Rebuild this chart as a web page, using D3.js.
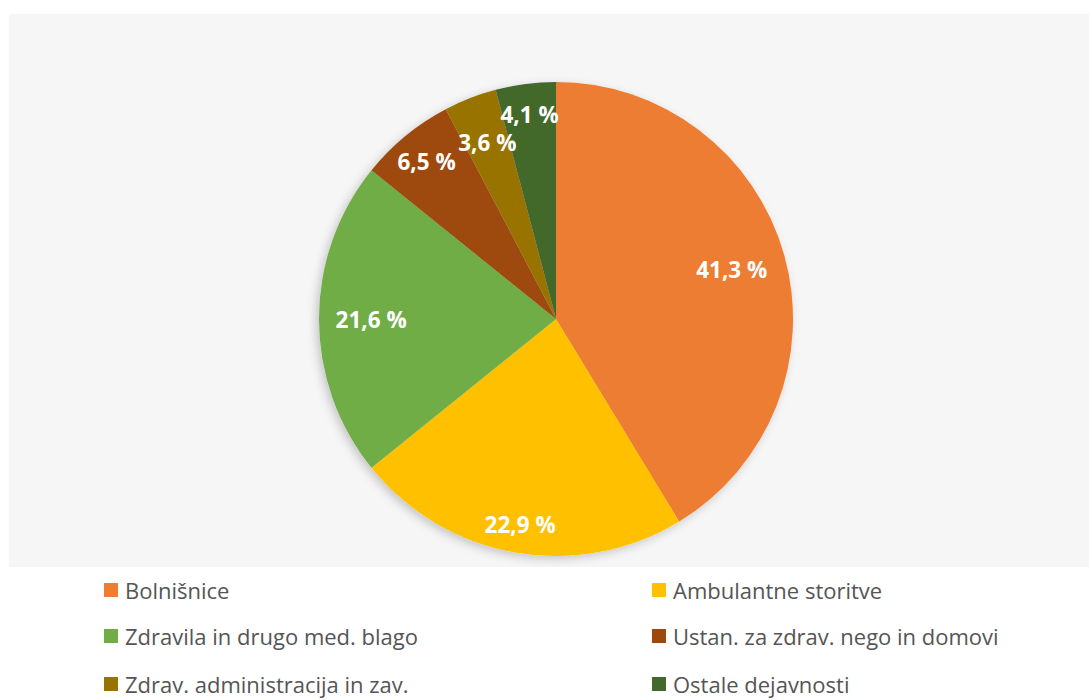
<!DOCTYPE html>
<html>
<head>
<meta charset="utf-8">
<script src="https://cdn.jsdelivr.net/npm/d3@7"></script>
<style>
  html, body { margin: 0; padding: 0; background: #ffffff; }
  svg { display: block; }
</style>
</head>
<body>
<svg id="chart" width="1089" height="700"></svg>
<script>
// Health expenditure by provider (share, %)
const categories = [
  "Bolnišnice",
  "Ambulantne storitve",
  "Zdravila in drugo med. blago",
  "Ustan. za zdrav. nego in domovi",
  "Zdrav. administracija in zav.",
  "Ostale dejavnosti"
];
const values = [41.3, 22.9, 21.6, 6.5, 3.6, 4.1];
const valueLabels = ["41,3 %", "22,9 %", "21,6 %", "6,5 %", "3,6 %", "4,1 %"];
const colors = ["#ED7D31", "#FFC000", "#70AD47", "#9E480E", "#997300", "#43682B"];

const svg = d3.select("#chart");
const W = 1089;
const FONT = "'Open Sans', Lato, sans-serif";

// plot area background
svg.append("rect")
  .attr("x", 9).attr("y", 14)
  .attr("width", W - 9).attr("height", 553)
  .attr("fill", "#f6f6f6");

const defs = svg.append("defs");
const shadow = defs.append("filter").attr("id", "pieShadow")
  .attr("x", "-20%").attr("y", "-20%").attr("width", "140%").attr("height", "140%");
shadow.append("feDropShadow")
  .attr("dx", -3).attr("dy", 3).attr("stdDeviation", 5)
  .attr("flood-color", "#000").attr("flood-opacity", 0.2);

const cx = 556, cy = 319, R = 237;

const pie = d3.pie().sort(null).value(d => d)
  .startAngle(0).endAngle(2 * Math.PI);
const arcs = pie(values);
const arc = d3.arc().innerRadius(0).outerRadius(R);

const g = svg.append("g").attr("transform", `translate(${cx},${cy})`);

g.append("g").attr("filter", "url(#pieShadow)")
  .selectAll("path")
  .data(arcs)
  .join("path")
  .attr("d", arc)
  .attr("fill", (d, i) => colors[i]);

// label distance from centre, as a fraction of the radius
const labelFrac = [0.77, 0.88, 0.78, 0.86, 0.80, 0.87];

g.selectAll("text.val")
  .data(arcs)
  .join("text")
  .attr("class", "val")
  .attr("transform", (d, i) => {
    const a = (d.startAngle + d.endAngle) / 2;
    const r = R * labelFrac[i];
    return `translate(${Math.sin(a) * r},${-Math.cos(a) * r})`;
  })
  .attr("text-anchor", "middle")
  .attr("dominant-baseline", "central")
  .attr("font-family", FONT)
  .attr("font-weight", "bold")
  .attr("font-size", 22.5)
  .attr("fill", "#ffffff")
  .text((d, i) => valueLabels[i]);

// legend: two columns, three rows
const colX = [104, 652];
const rowY = [590, 636, 684];
const legend = svg.append("g");
const items = legend.selectAll("g")
  .data(categories)
  .join("g")
  .attr("transform", (d, i) => `translate(${colX[i % 2]},${rowY[Math.floor(i / 2)]})`);
items.append("rect")
  .attr("x", 0).attr("y", -7)
  .attr("width", 14).attr("height", 14)
  .attr("fill", (d, i) => colors[i]);
items.append("text")
  .attr("x", 21).attr("y", 0)
  .attr("dominant-baseline", "central")
  .attr("font-family", FONT)
  .attr("font-size", 22)
  .attr("fill", "#555555")
  .text(d => d);
</script>
</body>
</html>
